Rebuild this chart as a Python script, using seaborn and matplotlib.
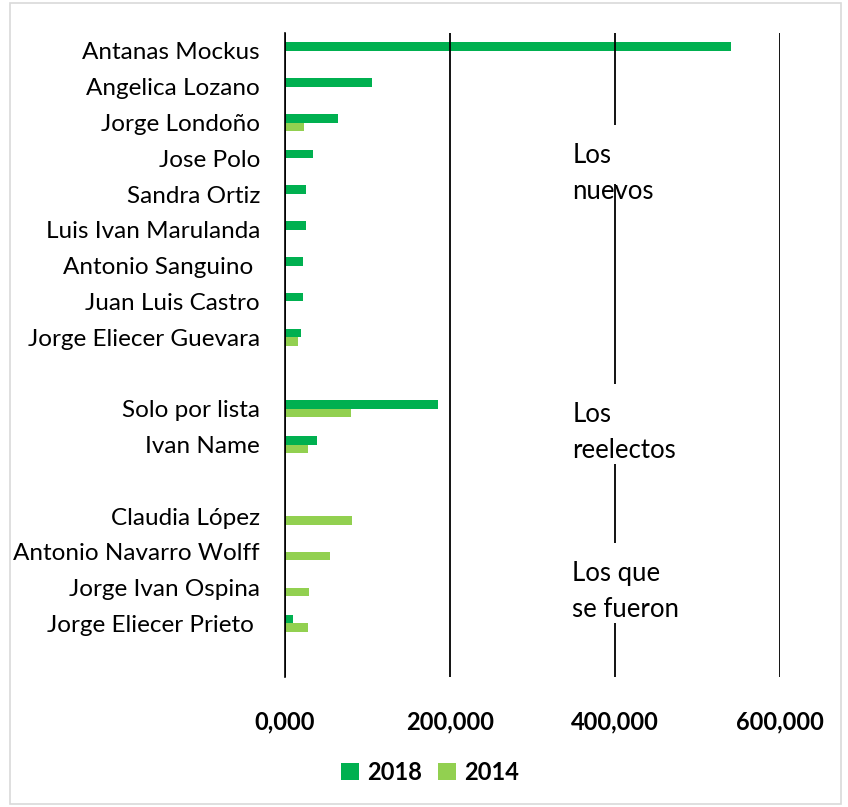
import numpy as np
import pandas as pd
import matplotlib
matplotlib.use('Agg')
import matplotlib.pyplot as plt
import seaborn as sns
from matplotlib.patches import Rectangle
from matplotlib.ticker import FuncFormatter

# Candidates (blank entries are the empty rows between groups)
names = ["Antanas Mockus", "Angelica Lozano", "Jorge Londoño", "Jose Polo",
         "Sandra Ortiz", "Luis Ivan Marulanda", "Antonio Sanguino ",
         "Juan Luis Castro", "Jorge Eliecer Guevara", " ",
         "Solo por lista", "Ivan Name", "  ",
         "Claudia López", "Antonio Navarro Wolff", "Jorge Ivan Ospina",
         "Jorge Eliecer Prieto ", "   "]

nan = np.nan
votes_2018 = [541000, 105000, 64000, 34000, 26000, 25500, 22000, 22000, 20000, nan,
              186000, 39000, nan,
              nan, nan, nan, 10000, nan]
votes_2014 = [nan, nan, 23000, nan, nan, nan, nan, nan, 15500, nan,
              80500, 28000, nan,
              81000, 55000, 29500, 28000, nan]

years = ["2018", "2014"]
palette = {"2018": "#00B050", "2014": "#92D050"}

x_ticks = [0, 200000, 400000, 600000]

# Group annotations: text, y center (category units), covered gridline span
groups = [("Los\nnuevos", 3.42, 2.07, 3.72),
          ("Los\nreelectos", 10.67, 9.30, 11.54),
          ("Los que\nse fueron", 15.10, 13.74, 16.0)]


def build_frame():
    df = pd.DataFrame({"name": names, "2018": votes_2018, "2014": votes_2014})
    df = df.melt(id_vars="name", var_name="year", value_name="votes")
    return df


def draw():
    df = build_frame()

    fig = plt.figure(figsize=(8.48, 8.07), dpi=100)
    ax = fig.add_axes([0.336, 0.161, 0.584, 0.798])

    sns.barplot(data=df, y="name", x="votes", hue="year", order=names,
                hue_order=years, palette=palette, width=0.48, ax=ax,
                orient="h", legend=True, saturation=1)

    ax.set_xlim(0, 600000)
    ax.set_ylim(len(names) - 0.5, -0.5)
    ax.set_xticks(x_ticks)
    ax.xaxis.set_major_formatter(FuncFormatter(
        lambda v, p: "0,000" if v == 0 else f"{int(v):,}"))

    ax.set_xlabel("")
    ax.set_ylabel("")

    for s in ["top", "right", "bottom"]:
        ax.spines[s].set_visible(False)
    ax.spines["left"].set_color("black")
    ax.spines["left"].set_linewidth(1.2)

    ax.grid(axis="x", color="black", linewidth=1.3)
    ax.grid(axis="y", visible=False)
    ax.set_axisbelow(False)

    ax.tick_params(axis="y", length=0, pad=18, labelsize=17.5)
    ax.tick_params(axis="x", length=0, pad=24, labelsize=17)
    for lab in ax.get_yticklabels():
        lab.set_fontfamily("Lato")
    for lab in ax.get_xticklabels():
        lab.set_fontfamily("Lato")
        lab.set_fontweight("bold")

    # group labels sit on white boxes that break the 400,000 line
    for txt, yc, y0, y1 in groups:
        ax.add_patch(Rectangle((385000, y0), 30000, y1 - y0,
                               facecolor="white", edgecolor="none", zorder=3))
        ax.text(348000, yc, txt, fontsize=18.5, family="Lato", va="center",
                ha="left", linespacing=1.55, zorder=4)

    # legend at bottom
    handles, labels = ax.get_legend_handles_labels()
    ax.get_legend().remove()
    fig.legend(handles, labels, loc="center", bbox_to_anchor=(0.507, 0.043),
               ncol=2, frameon=False, handlelength=0.75, handleheight=0.75,
               handletextpad=0.35, columnspacing=0.7,
               prop={"family": "Lato", "weight": "bold", "size": 17})

    # light border around the chart area
    fig.patches.append(Rectangle((0.012, 0.004), 0.98, 0.992,
                                 transform=fig.transFigure, fill=False,
                                 edgecolor="#d9d9d9", linewidth=1.2))

    fig.savefig("out.png", dpi=100)
    return fig


draw()
